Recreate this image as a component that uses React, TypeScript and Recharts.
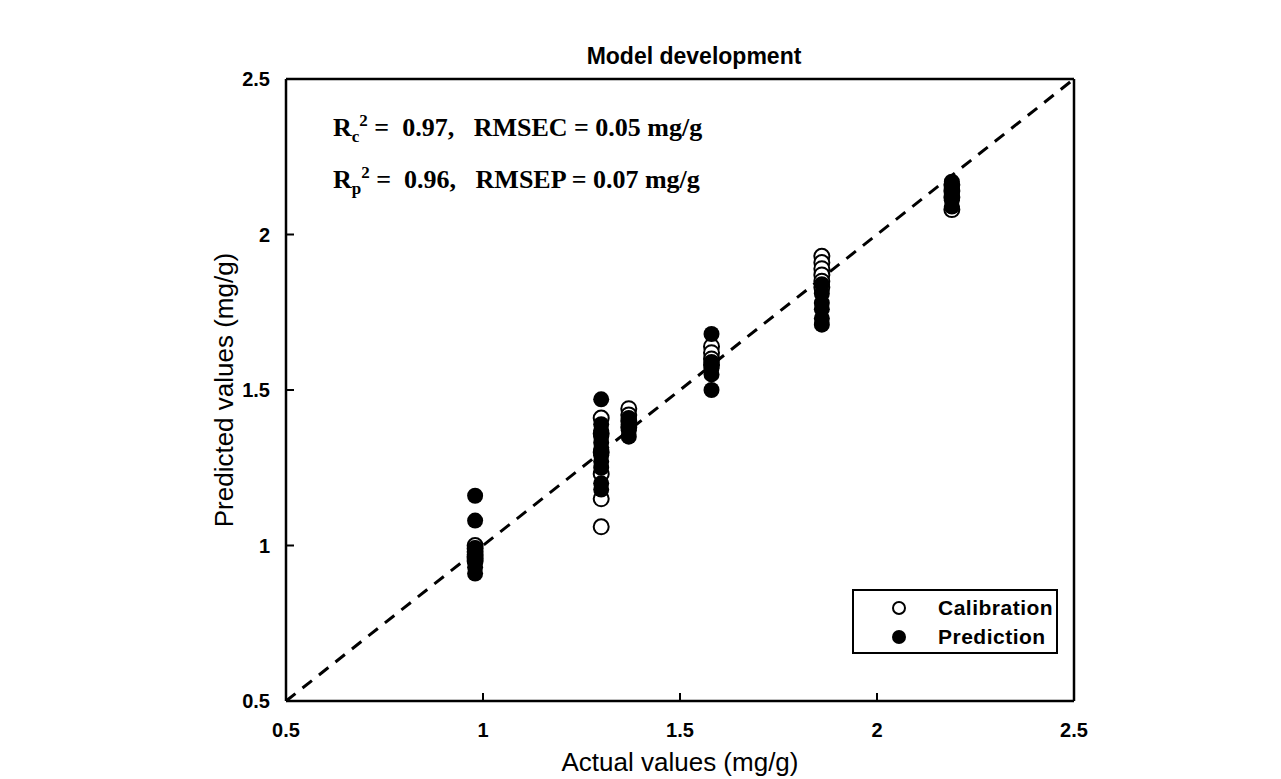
import { ScatterChart, Scatter, XAxis, YAxis, ReferenceLine, Legend, Label } from 'recharts'

// actual concentration of each sample group (mg/g)
const groupActual = [0.98, 1.3, 1.37, 1.58, 1.86, 2.19]

// predicted values per group, calibration set (open circles)
const calPredicted = [
  [1.0, 0.99, 0.98, 0.97, 0.96, 0.95],
  [1.41, 1.36, 1.3, 1.23, 1.15, 1.06],
  [1.44, 1.42, 1.4, 1.38],
  [1.64, 1.62, 1.6, 1.58],
  [1.93, 1.91, 1.89, 1.87, 1.85, 1.83],
  [2.16, 2.14, 2.12, 2.08],
]

// predicted values per group, prediction set (filled circles)
const predPredicted = [
  [1.16, 1.08, 0.99, 0.97, 0.95, 0.93, 0.91],
  [1.47, 1.39, 1.37, 1.35, 1.33, 1.31, 1.29, 1.27, 1.25, 1.2, 1.18],
  [1.41, 1.39, 1.37, 1.35],
  [1.68, 1.59, 1.57, 1.55, 1.5],
  [1.84, 1.81, 1.78, 1.76, 1.73, 1.71],
  [2.17, 2.15, 2.13, 2.11, 2.09],
]

const axisTicks = [0.5, 1, 1.5, 2, 2.5]

const toPoints = (sets: number[][]) =>
  sets.flatMap((vals, i) => vals.map(v => ({ actual: groupActual[i], predicted: v })))

const calData = toPoints(calPredicted)
const predData = toPoints(predPredicted)

const SANS = 'Arial, "Liberation Sans", sans-serif'
const SERIF = '"Times New Roman", "Liberation Serif", serif'

const OpenDot = (p: any) => <circle cx={p.cx} cy={p.cy} r={7.5} fill="#fff" stroke="#000" strokeWidth={2} />
const FilledDot = (p: any) => <circle cx={p.cx} cy={p.cy} r={8} fill="#000" />

const LegendBox = () => (
  <div style={{ width: 206, height: 65, border: '2px solid #000', boxSizing: 'border-box', background: '#fff', fontFamily: SANS, fontWeight: 'bold', fontSize: 21 }}>
    <div style={{ display: 'flex', alignItems: 'center', height: 30, marginTop: 2 }}>
      <svg width={84} height={20}><circle cx={45} cy={10} r={6} fill="#fff" stroke="#000" strokeWidth={2} /></svg>
      <span style={{ letterSpacing: 0.5 }}>Calibration</span>
    </div>
    <div style={{ display: 'flex', alignItems: 'center', height: 28 }}>
      <svg width={84} height={20}><circle cx={45} cy={10} r={7} fill="#000" /></svg>
      <span style={{ letterSpacing: 0.5 }}>Prediction</span>
    </div>
  </div>
)

export default function App() {
  const tickStyle = { fill: '#000', fontSize: 20, fontWeight: 'bold' as const, fontFamily: SANS }
  return (
    <div style={{ position: 'absolute', left: 0, top: 0, width: 1281, height: 779, background: '#fff' }}>
      <ScatterChart width={1281} height={779} margin={{ top: 78, right: 206, bottom: 8, left: 206 }}>
        <XAxis
          xAxisId="bottom"
          dataKey="actual"
          type="number"
          domain={[0.5, 2.5]}
          ticks={axisTicks}
          height={70}
          tickSize={-8}
          tickMargin={30}
          tick={tickStyle}
          axisLine={{ stroke: '#000', strokeWidth: 2.5 }}
          tickLine={{ stroke: '#000', strokeWidth: 2 }}
          allowDataOverflow
        >
          <Label
            value="Actual values (mg/g)"
            position="insideBottom"
            offset={0}
            style={{ fill: '#000', fontSize: 26, fontFamily: SANS }}
          />
        </XAxis>
        <XAxis
          xAxisId="top"
          orientation="top"
          type="number"
          domain={[0.5, 2.5]}
          ticks={axisTicks}
          height={1}
          tickSize={-8}
          tick={false}
          axisLine={{ stroke: '#000', strokeWidth: 2.5 }}
          tickLine={{ stroke: '#000', strokeWidth: 2 }}
          allowDataOverflow
        />
        <YAxis
          yAxisId="left"
          dataKey="predicted"
          type="number"
          domain={[0.5, 2.5]}
          ticks={axisTicks}
          width={80}
          tickSize={-8}
          tickMargin={24}
          tick={tickStyle}
          axisLine={{ stroke: '#000', strokeWidth: 2.5 }}
          tickLine={{ stroke: '#000', strokeWidth: 2 }}
          allowDataOverflow
        >
          <Label
            value="Predicted values (mg/g)"
            angle={-90}
            position="insideLeft"
            offset={18}
            style={{ textAnchor: 'middle', fill: '#000', fontSize: 26, fontFamily: SANS }}
          />
        </YAxis>
        <YAxis
          yAxisId="right"
          orientation="right"
          type="number"
          domain={[0.5, 2.5]}
          ticks={axisTicks}
          width={1}
          tickSize={-8}
          tick={false}
          axisLine={{ stroke: '#000', strokeWidth: 2.5 }}
          tickLine={{ stroke: '#000', strokeWidth: 2 }}
          allowDataOverflow
        />
        <ReferenceLine
          xAxisId="bottom"
          yAxisId="left"
          segment={[{ x: 0.5, y: 0.5 }, { x: 2.5, y: 2.5 }]}
          stroke="#000"
          strokeWidth={3}
          strokeDasharray="12 9"
        />
        <Scatter name="Calibration" data={calData} xAxisId="bottom" yAxisId="left" shape={OpenDot} isAnimationActive={false} />
        <Scatter name="Prediction" data={predData} xAxisId="bottom" yAxisId="left" shape={FilledDot} isAnimationActive={false} />
        <Legend
          layout="vertical"
          align="center"
          verticalAlign="middle"
          content={() => <LegendBox />}
          wrapperStyle={{ left: 852, top: 589, width: 206, height: 65 }}
        />
      </ScatterChart>

      <div style={{ position: 'absolute', left: 300, top: 43, width: 788, textAlign: 'center', fontFamily: SANS, fontWeight: 'bold', fontSize: 23 }}>
        Model development
      </div>

      <div style={{ position: 'absolute', left: 333, top: 104, fontFamily: SERIF, fontWeight: 'bold', fontSize: 26, whiteSpace: 'nowrap' }}>
        <div style={{ height: 52, lineHeight: '34px' }}>
          R<sub style={{ fontSize: 17 }}>c</sub><sup style={{ fontSize: 17 }}>2</sup> =&nbsp; 0.97,&nbsp;&nbsp; RMSEC = 0.05 mg/g
        </div>
        <div style={{ height: 52, lineHeight: '34px' }}>
          R<sub style={{ fontSize: 17 }}>p</sub><sup style={{ fontSize: 17 }}>2</sup> =&nbsp; 0.96,&nbsp;&nbsp; RMSEP = 0.07 mg/g
        </div>
      </div>
    </div>
  )
}
